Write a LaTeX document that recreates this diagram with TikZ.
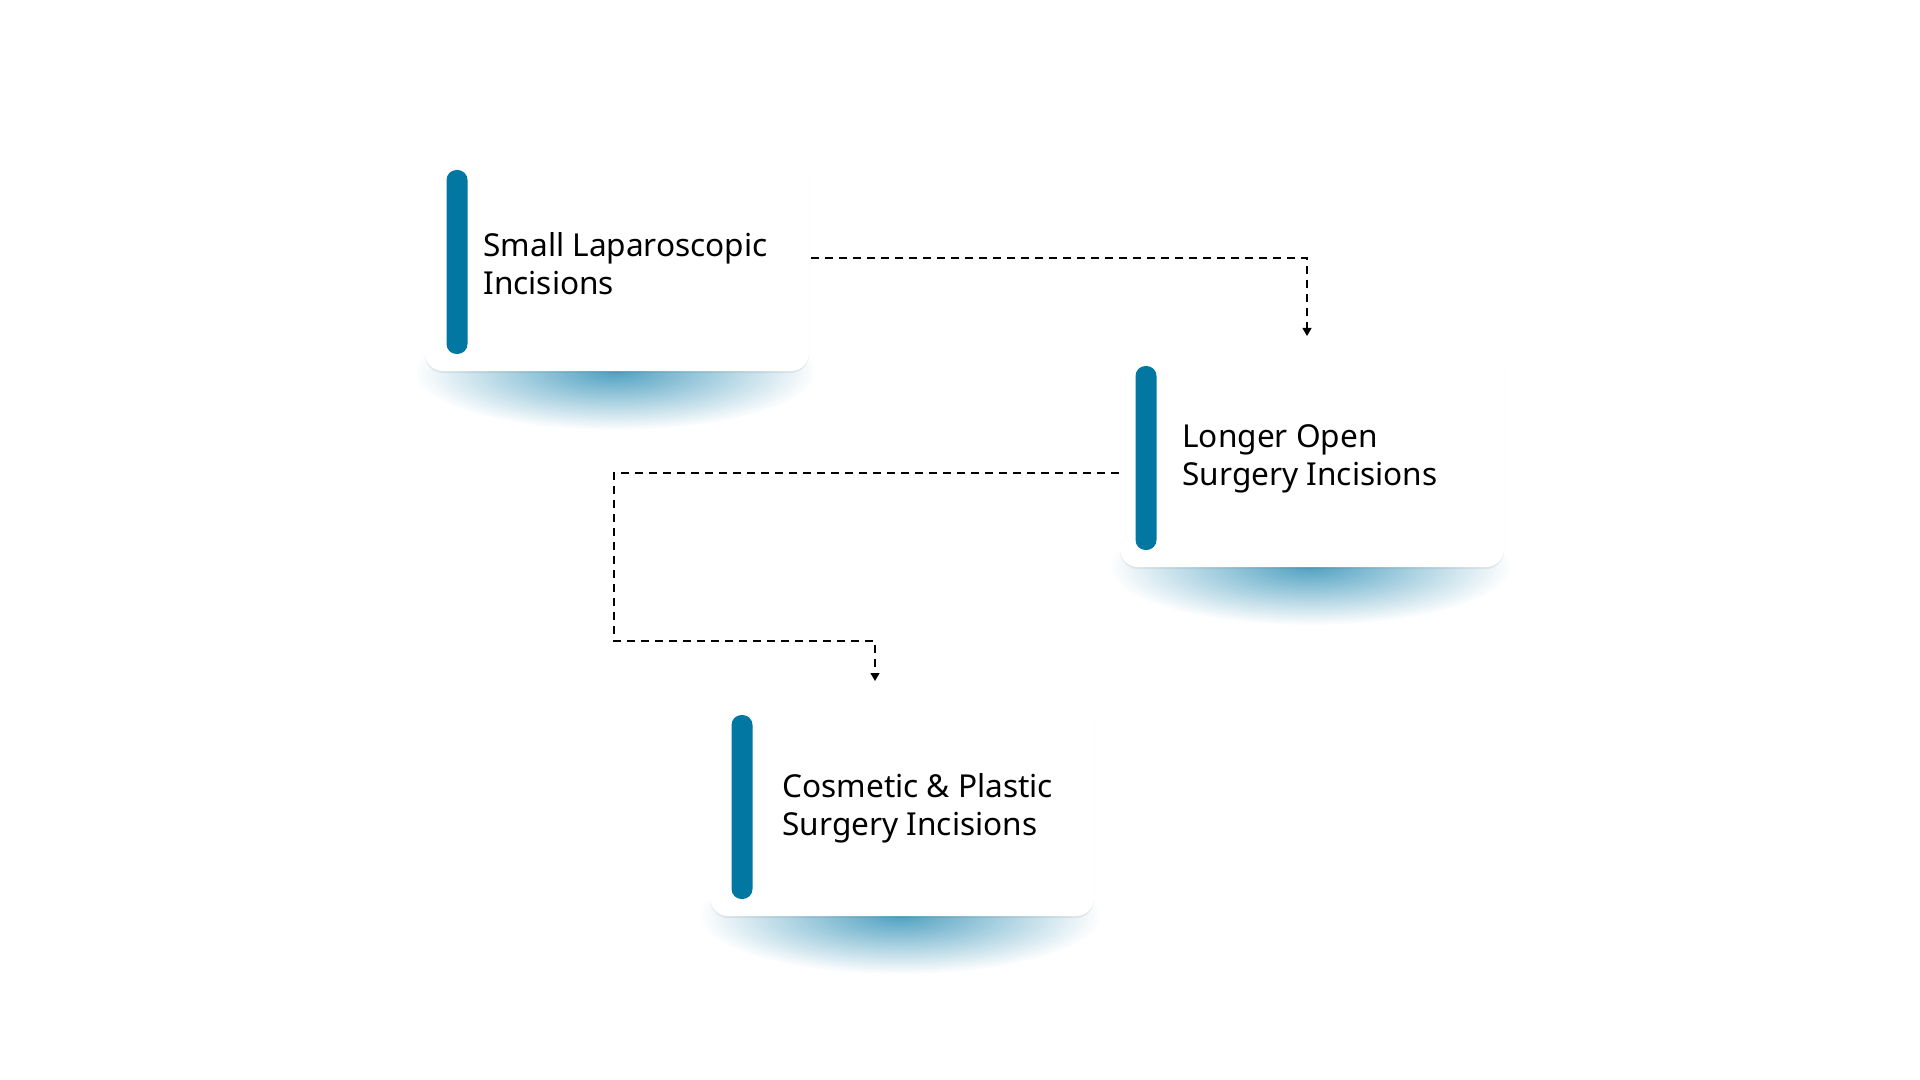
\documentclass[tikz,border=0pt]{standalone}
\usepackage{fontspec}
\setmainfont{Noto Sans}
\usetikzlibrary{fadings,arrows.meta,shadows}
\tikzfading[name=softglow, inner color=transparent!15, outer color=transparent!100]
\begin{document}
\begin{tikzpicture}[x=0.5pt,y=-0.5pt,
  card/.style={draw=none,fill=white,rounded corners=9pt,minimum width=192pt,minimum height=109pt,inner sep=0pt,
     drop shadow={shadow xshift=0pt,shadow yshift=-1pt,opacity=0.06,fill=black}},
  bar/.style={fill=barblue,rounded corners=5pt,minimum width=10.5pt,minimum height=92pt,inner sep=0pt},
  lbl/.style={anchor=west,align=left,font=\fontsize{15.8pt}{19pt}\selectfont,inner sep=0pt},
  conn/.style={draw=black,line width=0.6pt,dash pattern=on 4pt off 3pt,-{Triangle[length=4pt,width=4.5pt]}}]
\definecolor{barblue}{RGB}{1,119,161}
\definecolor{glow}{RGB}{40,140,180}
\fill[white] (0,0) rectangle (1920,1080);
\foreach \cx/\cy in {615/372, 1310/567, 900/916}{
  \fill[glow,path fading=softglow,opacity=0.95] (\cx,\cy) ellipse [x radius=200, y radius=58];
}
\node[card] (b1) at (617,262) {};
\node[card] (b2) at (1312,458) {};
\node[card] (b3) at (902,807) {};
\node[bar] (r1) at (457,262) {};
\node[bar] (r2) at (1146,458) {};
\node[bar] (r3) at (742,807) {};
\node[lbl] (t1) at (483,264) {Small Laparoscopic\\Incisions};
\node[lbl] (t2) at (1182,459) {Longer Open\\Surgery Incisions};
\node[lbl] (t3) at (782,808) {Cosmetic \& Plastic\\Surgery Incisions};
\coordinate (c1) at (811,258);
\coordinate (c2) at (1307,336);
\coordinate (c3) at (1119,473);
\coordinate (c4) at (875,681);
\draw[conn] (c1) -| (c2);
\draw[conn] (c3) -- (614,473) -- (614,641) -- (875,641) -- (c4);
\end{tikzpicture}
\end{document}
